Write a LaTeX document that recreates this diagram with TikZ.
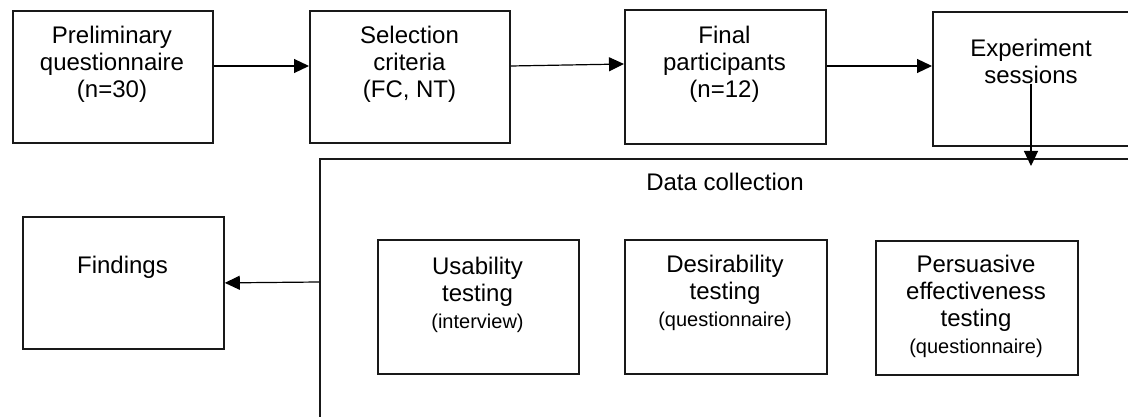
\documentclass[tikz,border=0pt]{standalone}
\usepackage{fontspec}
\setmainfont{Liberation Sans}
\usetikzlibrary{arrows.meta}
\tikzset{
  boxnode/.style={draw=black!90, line width=1.8pt, minimum width=200pt, minimum height=132pt, inner sep=0pt, anchor=north west},
  txt/.style={align=center, inner sep=0pt, font=\fontsize{24}{27}\selectfont},
  arr/.style={line width=1.2pt, -{Triangle[length=15pt, width=14pt]}},
}
\newcommand{\smalltext}[1]{{\fontsize{20}{27}\selectfont #1}}
\begin{document}
\begin{tikzpicture}[x=1pt, y=-1pt]
  \path[use as bounding box] (0,0) rectangle (1128,417);
  \clip (0,0) rectangle (1128,417);
  % top row
  \node[boxnode] (b1) at (12,10) {};
  \node[boxnode] (b2) at (309,10) {};
  \node[boxnode, minimum width=201pt, minimum height=134pt] (b3) at (624,9) {};
  \node[boxnode, minimum width=201pt, minimum height=134pt] (b4) at (932,11) {};
  \node[txt] (t1) at (112,64) {Preliminary\\questionnaire\\(n=30)};
  \node[txt] (t2) at (409.5,64) {Selection\\criteria\\(FC, NT)};
  \node[txt] (t3) at (724.5,64) {Final\\participants\\(n=12)};
  \node[txt] (t4) at (1031,61) {Experiment\\sessions};
  \draw[arr] (b1.east |- 0,66) -- (b2.west |- 0,66);
  \draw[arr] (b2.east |- 0,66) -- (b3.west |- 0,64);
  \draw[arr] (b3.east |- 0,66) -- (b4.west |- 0,66);
  % data collection
  \node[boxnode, line width=1.6pt, minimum width=840pt, minimum height=300pt] (dc) at (319,158) {};
  \node[txt] (dct) at (725,182) {Data collection};
  \coordinate (c1) at (1031,166);
  \draw[arr] (t4.south) -- (c1);
  \node[boxnode, minimum width=201pt, minimum height=134pt] (u) at (377,239) {};
  \node[boxnode, minimum width=202pt, minimum height=134pt] (d) at (624,239) {};
  \node[boxnode, minimum width=202pt, minimum height=134pt] (p) at (875,240) {};
  \node[txt] (ut) at (477.5,295) {Usability\\testing\\\smalltext{(interview)}};
  \node[txt] (dt) at (725,293) {Desirability\\testing\\\smalltext{(questionnaire)}};
  \node[txt] (pt) at (976,306) {Persuasive\\effectiveness\\testing\\\smalltext{(questionnaire)}};
  % findings
  \node[boxnode, minimum width=201pt, minimum height=132pt] (f) at (22,216) {};
  \node[txt] (ft) at (122.5,267) {Findings};
  \coordinate (dcw) at (319,282);
  \draw[arr] (dcw) -- (f.east);
\end{tikzpicture}
\end{document}
